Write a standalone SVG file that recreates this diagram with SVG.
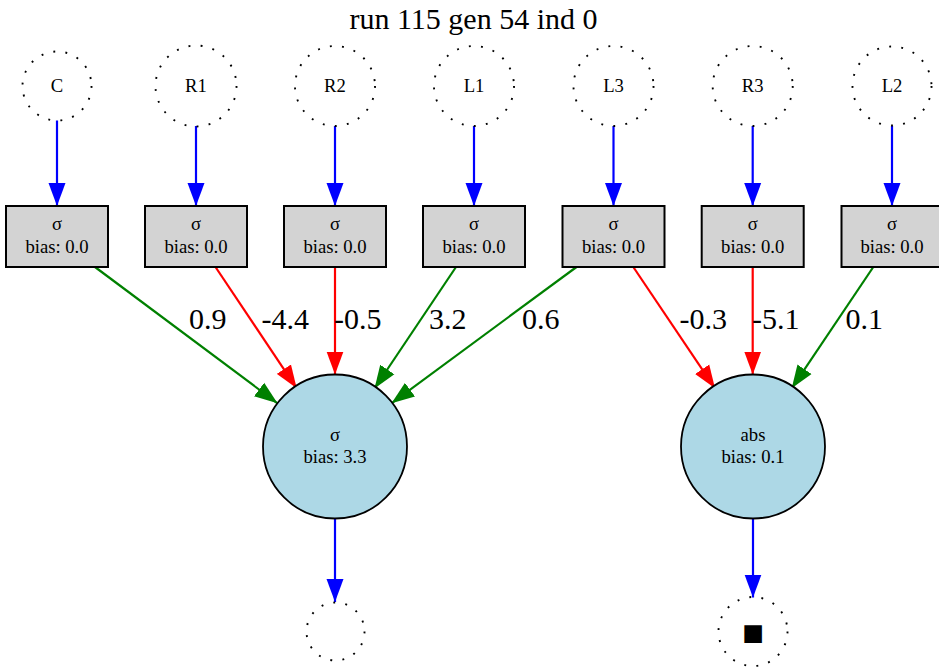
<svg xmlns="http://www.w3.org/2000/svg" width="939" height="667" viewBox="0 0 939 667">
  <style>
    text { font-family: "Liberation Serif", "Times New Roman", serif; fill: #000; }
    .lbl { font-size: 18.67px; text-anchor: middle; }
    .w { font-size: 30px; }
    .title { font-size: 30px; text-anchor: middle; }
    .in { fill: none; stroke: #000; stroke-width: 1.9; stroke-dasharray: 1.9 10.3; }
    .hid { fill: #d3d3d3; stroke: #000; stroke-width: 2; }
    .out { fill: #add8e6; stroke: #000; stroke-width: 1.8; }
    .e { fill: none; stroke-width: 2.2; }
    .b { stroke: #0000ff; marker-end: url(#ab); }
    .r { stroke: #ff0000; marker-end: url(#ar); }
    .g { stroke: #008000; marker-end: url(#ag); }
  </style>
  <defs>
    <marker id="ab" markerUnits="userSpaceOnUse" viewBox="0 -9 24 18" refX="23" refY="0" markerWidth="24" markerHeight="18" orient="auto">
      <path d="M0,-8.5 L23,0 L0,8.5 z" fill="#0000ff"/>
    </marker>
    <marker id="ar" markerUnits="userSpaceOnUse" viewBox="0 -9 24 18" refX="23" refY="0" markerWidth="24" markerHeight="18" orient="auto">
      <path d="M0,-8.5 L23,0 L0,8.5 z" fill="#ff0000"/>
    </marker>
    <marker id="ag" markerUnits="userSpaceOnUse" viewBox="0 -9 24 18" refX="23" refY="0" markerWidth="24" markerHeight="18" orient="auto">
      <path d="M0,-8.5 L23,0 L0,8.5 z" fill="#008000"/>
    </marker>
  </defs>
  <rect width="939" height="667" fill="#fff"/>
  <text class="title" x="473.5" y="28.5">run 115 gen 54 ind 0</text>

  <!-- connectors -->
  <g id="edges">
    <line class="e b" x1="57" y1="120.5" x2="57" y2="206"/>
    <line class="e b" x1="196" y1="126" x2="196" y2="206"/>
    <line class="e b" x1="335" y1="126" x2="335" y2="206"/>
    <line class="e b" x1="474" y1="126" x2="474" y2="206"/>
    <line class="e b" x1="613.5" y1="126" x2="613.5" y2="206"/>
    <line class="e b" x1="752.7" y1="126" x2="752.7" y2="206"/>
    <line class="e b" x1="892" y1="126" x2="892" y2="206"/>

    <line class="e g" x1="95" y1="267" x2="277.5" y2="403.3"/>
    <line class="e r" x1="215.5" y1="267" x2="296.7" y2="388.3"/>
    <line class="e r" x1="335" y1="267" x2="335" y2="374.5"/>
    <line class="e g" x1="456" y1="267" x2="374.5" y2="388.5"/>
    <line class="e g" x1="576.5" y1="267" x2="391.5" y2="403.3"/>
    <line class="e r" x1="633.3" y1="267" x2="715" y2="388.3"/>
    <line class="e r" x1="752.7" y1="267" x2="752.7" y2="374.5"/>
    <line class="e g" x1="873.3" y1="267" x2="791.7" y2="388.3"/>

    <line class="e b" x1="335" y1="518.5" x2="335" y2="602"/>
    <line class="e b" x1="753" y1="518.5" x2="753" y2="597.5"/>

    <text class="w" x="189" y="329">0.9</text>
    <text class="w" x="261.5" y="329">-4.4</text>
    <text class="w" x="334" y="329">-0.5</text>
    <text class="w" x="429" y="329">3.2</text>
    <text class="w" x="522" y="329">0.6</text>
    <text class="w" x="679.5" y="329">-0.3</text>
    <text class="w" x="752" y="329">-5.1</text>
    <text class="w" x="845.5" y="329">0.1</text>
  </g>

  <!-- input sensors -->
  <g id="in-C"><circle class="in" cx="57" cy="86" r="34.5"/><text class="lbl" x="57" y="92">C</text></g>
  <g id="in-R1"><circle class="in" cx="196" cy="86" r="40.5"/><text class="lbl" x="196" y="92">R1</text></g>
  <g id="in-R2"><circle class="in" cx="335" cy="86" r="40"/><text class="lbl" x="335" y="92">R2</text></g>
  <g id="in-L1"><circle class="in" cx="474" cy="86" r="40"/><text class="lbl" x="474" y="92">L1</text></g>
  <g id="in-L3"><circle class="in" cx="613.5" cy="86" r="40"/><text class="lbl" x="613.5" y="92">L3</text></g>
  <g id="in-R3"><circle class="in" cx="752.7" cy="86" r="40"/><text class="lbl" x="752.7" y="92">R3</text></g>
  <g id="in-L2"><circle class="in" cx="892" cy="86" r="39.5"/><text class="lbl" x="892" y="92">L2</text></g>

  <!-- hidden sigmoid units -->
  <g id="h-C"><rect class="hid" x="6" y="206" width="102" height="61"/><text class="lbl" x="57" y="230">σ</text><text class="lbl" x="57" y="252.5">bias: 0.0</text></g>
  <g id="h-R1"><rect class="hid" x="145" y="206" width="102" height="61"/><text class="lbl" x="196" y="230">σ</text><text class="lbl" x="196" y="252.5">bias: 0.0</text></g>
  <g id="h-R2"><rect class="hid" x="284" y="206" width="102" height="61"/><text class="lbl" x="335" y="230">σ</text><text class="lbl" x="335" y="252.5">bias: 0.0</text></g>
  <g id="h-L1"><rect class="hid" x="423" y="206" width="102" height="61"/><text class="lbl" x="474" y="230">σ</text><text class="lbl" x="474" y="252.5">bias: 0.0</text></g>
  <g id="h-L3"><rect class="hid" x="562.5" y="206" width="102" height="61"/><text class="lbl" x="613.5" y="230">σ</text><text class="lbl" x="613.5" y="252.5">bias: 0.0</text></g>
  <g id="h-R3"><rect class="hid" x="701.7" y="206" width="102" height="61"/><text class="lbl" x="752.7" y="230">σ</text><text class="lbl" x="752.7" y="252.5">bias: 0.0</text></g>
  <g id="h-L2"><rect class="hid" x="841.5" y="206" width="102" height="61"/><text class="lbl" x="892" y="230">σ</text><text class="lbl" x="892" y="252.5">bias: 0.0</text></g>

  <!-- output units -->
  <g id="o-sig"><circle class="out" cx="335" cy="446.5" r="72"/><text class="lbl" x="335" y="440.5">σ</text><text class="lbl" x="335" y="462.5">bias: 3.3</text></g>
  <g id="o-abs"><circle class="out" cx="753" cy="446.5" r="72"/><text class="lbl" x="753" y="440.5">abs</text><text class="lbl" x="753" y="462.5">bias: 0.1</text></g>

  <!-- actuators -->
  <g id="act-1"><circle class="in" cx="335.5" cy="631.5" r="29"/></g>
  <g id="act-2"><circle class="in" cx="753" cy="631.5" r="34.5"/><text x="753" y="640" style="font-family: 'DejaVu Sans', sans-serif; font-size: 23px; text-anchor: middle;">■</text></g>
</svg>
